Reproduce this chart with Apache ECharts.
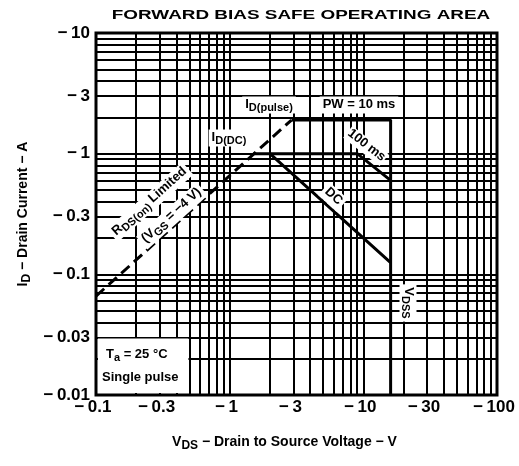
<!DOCTYPE html>
<html>
<head>
<meta charset="utf-8">
<script src="https://cdn.jsdelivr.net/npm/echarts@6/dist/echarts.min.js"></script>
<style>
  html, body { margin: 0; padding: 0; background: #fff; }
  #chart { width: 519px; height: 466px; }
</style>
</head>
<body>
<div id="chart"></div>
<script>
// log paper grid (V and A)
const xGridValues = [0.1, 0.2, 0.3, 0.4, 0.5, 0.6, 0.7, 0.8, 0.9,
  1, 2, 3, 4, 5, 6, 7, 8, 9, 10, 20, 30, 40, 50, 60, 70, 80, 90, 100]
const yGridValues = [0.01, 0.02, 0.03, 0.04, 0.05, 0.06, 0.07, 0.08, 0.09,
  0.1, 0.2, 0.3, 0.4, 0.5, 0.6, 0.7, 0.8, 0.9, 1, 2, 3, 4, 5, 6, 7, 8, 9, 10]
const xTickLabels = [0.1, 0.3, 1, 3, 10, 30, 100]
const yTickLabels = [0.01, 0.03, 0.1, 0.3, 1, 3, 10]

// SOA boundaries [VDS, ID]
const rdsLimitLine = [[0.1, 0.066], [2.9, 1.9]]
const pulseLine = [[2.9, 1.9], [16, 1.9], [16, 0.01]]
const dcLine = [[1.5, 1], [2, 1], [16, 0.125]]
const ms100Line = [[2, 1], [9, 1], [16, 0.6]]

const chart = echarts.init(document.getElementById('chart'))

const labelFont = '"Liberation Sans", Arial, sans-serif'
const minus = v => '\u2212\u2009' + v

const solid = (name, data) => ({
  name: name,
  type: 'line',
  data: data,
  symbol: 'none',
  z: 5,
  lineStyle: { color: '#000', width: 3 }
})

const subRich = {
  b: { fontFamily: labelFont, fontWeight: 'bold', fontSize: 13, color: '#000', verticalAlign: 'top', lineHeight: 15 },
  s: { fontFamily: labelFont, fontWeight: 'bold', fontSize: 11, color: '#000', verticalAlign: 'top', lineHeight: 13, padding: [5, 0, 0, 0] }
}

const nameRich = {
  b: { fontFamily: labelFont, fontWeight: 'bold', fontSize: 14, color: '#000', verticalAlign: 'top', lineHeight: 16 },
  s: { fontFamily: labelFont, fontWeight: 'bold', fontSize: 12, color: '#000', verticalAlign: 'top', lineHeight: 14, padding: [5, 0, 0, 0] }
}

const tag = (id, x, y, text, rot, pad) => ({
  id: id,
  type: 'text',
  x: x,
  y: y,
  rotation: rot || 0,
  z: 10,
  style: {
    text: text,
    rich: subRich,
    align: 'center',
    verticalAlign: 'middle',
    backgroundColor: '#fff',
    padding: pad || [1, 3, 1, 3]
  }
})

const option = {
  animation: false,
  grid: {
    left: 96,
    right: 22,
    top: 33,
    bottom: 71,
    show: true,
    borderColor: '#000',
    borderWidth: 3
  },
  xAxis: {
    type: 'log',
    logBase: 10,
    min: 0.1,
    max: 100,
    name: '{b|V}{s|DS}{b| \u2212 Drain to Source Voltage \u2212 V}',
    nameLocation: 'middle',
    nameGap: 40,
    nameTextStyle: { rich: nameRich, padding: [0, 24, 0, 0] },
    axisLine: { show: false },
    axisTick: { show: false, customValues: xGridValues },
    axisLabel: {
      customValues: xTickLabels,
      formatter: minus,
      margin: 4,
      color: '#000',
      fontFamily: labelFont,
      fontWeight: 'bold',
      fontSize: 17,
      padding: [0, 6, 0, 0]
    },
    splitLine: { show: true, lineStyle: { color: '#000', width: 2 } }
  },
  yAxis: {
    type: 'log',
    logBase: 10,
    min: 0.01,
    max: 10,
    name: '{b|I}{s|D}{b| \u2212 Drain Current \u2212 A}',
    nameLocation: 'middle',
    nameGap: 58,
    nameTextStyle: { rich: nameRich },
    axisLine: { show: false },
    axisTick: { show: false, customValues: yGridValues },
    axisLabel: {
      customValues: yTickLabels,
      formatter: minus,
      margin: 6,
      color: '#000',
      fontFamily: labelFont,
      fontWeight: 'bold',
      fontSize: 17
    },
    splitLine: { show: true, lineStyle: { color: '#000', width: 2 } }
  },
  series: [
    {
      name: 'RDS(on) limited',
      type: 'line',
      data: rdsLimitLine,
      symbol: 'none',
      z: 5,
      lineStyle: { color: '#000', width: 3, type: [11, 6] }
    },
    solid('PW = 10 ms', pulseLine),
    solid('DC', dcLine),
    solid('100 ms', ms100Line)
  ],
  graphic: [
    {
      id: 'title',
      type: 'text',
      x: 301,
      y: 15,
      scaleX: 1.4,
      style: {
        text: 'FORWARD BIAS SAFE OPERATING AREA',
        font: 'bold 13.5px "Liberation Sans", Arial, sans-serif',
        fill: '#000',
        align: 'center',
        verticalAlign: 'middle'
      }
    },
    tag('pulse', 269, 105, '{b|I}{s|D(pulse)}'),
    tag('pw', 359, 105, '{b|PW = 10 ms}'),
    tag('iddc', 229, 138, '{b|I}{s|D(DC)}'),
    tag('ms100', 366, 146, '{b|100 ms}', -0.66, [0, 1, 0, 1]),
    tag('dc', 333, 197, '{b|DC}', -0.74),
    tag('rds', 150, 202, '{b|R}{s|DS(on)}{b| Limited}', 0.73),
    tag('vgs', 172, 216, '{b|(V}{s|GS}{b| = \u22124 V)}', 0.73),
    tag('vdss', 408, 303, '{b|V}{s|DSS}', -Math.PI / 2)
  ]
}

chart.setOption(option)

// white panel for conditions, bounded by the 0.5 V and 0.03 A grid lines
const corner = chart.convertToPixel({ xAxisIndex: 0, yAxisIndex: 0 }, [0.5, 0.03])
const origin = chart.convertToPixel({ xAxisIndex: 0, yAxisIndex: 0 }, [0.1, 0.01])
chart.setOption({
  graphic: [
    {
      id: 'panel',
      type: 'rect',
      z: 9,
      shape: {
        x: origin[0] + 2,
        y: corner[1] + 1,
        width: corner[0] - origin[0] - 3,
        height: origin[1] - corner[1] - 3
      },
      style: { fill: '#fff' }
    },
    {
      id: 'ta',
      type: 'text',
      z: 10,
      x: origin[0] + 10,
      y: corner[1] + 18,
      style: {
        text: '{b|T}{s|a}{b| = 25 \u00b0C}',
        rich: subRich,
        align: 'left',
        verticalAlign: 'middle'
      }
    },
    {
      id: 'single',
      type: 'text',
      z: 10,
      x: origin[0] + 6,
      y: corner[1] + 40,
      style: {
        text: 'Single pulse',
        font: 'bold 13px "Liberation Sans", Arial, sans-serif',
        fill: '#000',
        align: 'left',
        verticalAlign: 'middle'
      }
    }
  ]
})

window.addEventListener('resize', () => chart.resize())
</script>
</body>
</html>
